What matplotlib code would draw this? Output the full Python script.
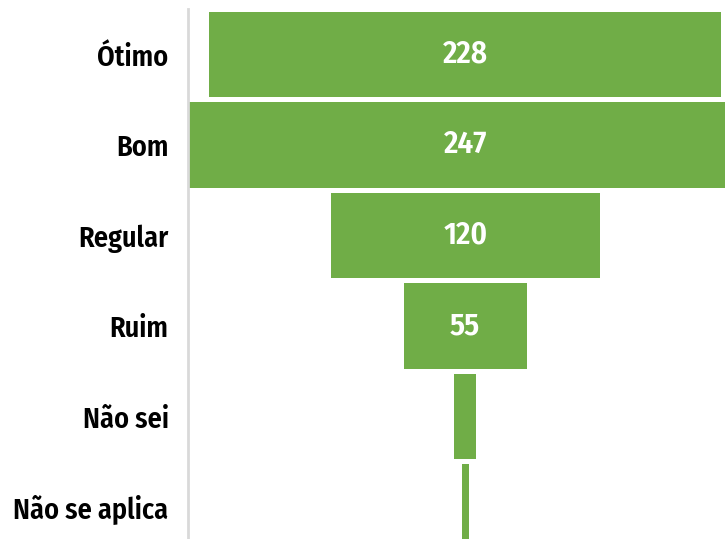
import matplotlib.pyplot as plt

# dados
categorias = ['Ótimo', 'Bom', 'Regular', 'Ruim', 'Não sei', 'Não se aplica']
valores = [228, 247, 120, 55, 10, 3]
rotulos = ['228', '247', '120', '55', '', '']

verde = '#70ad47'
fonte = ['Fira Sans Condensed', 'DejaVu Sans']

fig = plt.figure(figsize=(7.25, 5.39), dpi=100)
# a área do gráfico passa da borda direita e de baixo (como no original)
ax = fig.add_axes([188 / 725, 1 - 552.25 / 539, 554.5 / 725, 543 / 539])

pos = list(range(len(categorias)))
esq = [-v / 2 for v in valores]
ax.barh(pos, valores, left=esq, height=0.94, color=verde)

for p, v, r in zip(pos, valores, rotulos):
    if r:
        ax.text(0, p, r, ha='center', va='center', color='white',
                fontsize=22.5, fontweight=600, family=fonte)

ax.set_xlim(-123.5, 123.5)
ax.set_ylim(len(categorias) - 0.5, -0.5)
ax.set_yticks(pos)
ax.set_yticklabels(categorias, fontsize=20.3, fontweight=600, family=fonte)
ax.tick_params(axis='y', length=0, pad=14)
ax.set_xticks([])

for s in ['top', 'right', 'bottom']:
    ax.spines[s].set_visible(False)
ax.spines['left'].set_color('#d9d9d9')
ax.spines['left'].set_linewidth(2)

fig.savefig('out.png', dpi=100)
